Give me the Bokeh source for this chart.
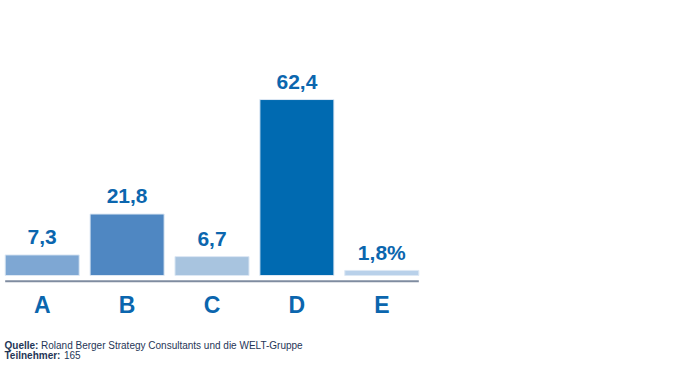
from bokeh.plotting import figure
from bokeh.models import Range1d, ColumnDataSource, Label
from bokeh.core.properties import value
from bokeh.embed import file_html
from bokeh.resources import INLINE

# ---- data ----
categories = ["A", "B", "C", "D", "E"]
values = [7.3, 21.8, 6.7, 62.4, 1.8]
bar_colors = ["#7ea7d3", "#4f87c2", "#a8c4df", "#006ab1", "#b9d1ea"]
value_labels = [f"{v:.1f}".replace(".", ",") for v in values]
value_labels[-1] += "%"
source_label = "Quelle:"
source_text = "Roland Berger Strategy Consultants und die WELT-Gruppe"
part_label = "Teilnehmer:"
part_text = "165"

W, H = 684, 362
px_x = 84.9     # pixels per category step
px_y = 2.82     # pixels per unit value
x0_px = 41.7    # pixel position of first category centre
y0_px = 87.0    # pixel position of zero from bottom

xs = list(range(len(categories)))
bar_w = 0.872

p = figure(width=W, height=H, output_backend="svg", toolbar_location=None,
           x_range=Range1d(-x0_px / px_x, -x0_px / px_x + W / px_x),
           y_range=Range1d(-y0_px / px_y, -y0_px / px_y + H / px_y),
           min_border=0, outline_line_color=None)
p.axis.visible = False
p.grid.visible = False
p.background_fill_color = "white"
p.border_fill_color = "white"

src = ColumnDataSource(dict(x=xs, top=values, color=bar_colors,
                            lab=value_labels, cat=categories,
                            zero=[0] * len(xs)))

p.vbar(x="x", top="top", bottom=0, width=bar_w, fill_color="color",
       line_color="#dde8f4", line_width=1, source=src)

# baseline
p.segment(x0=[xs[0] - bar_w / 2], x1=[xs[-1] + bar_w / 2], y0=[-2.0], y1=[-2.0],
          line_color="#7f8ca0", line_width=2)

TXT = "#0b66ae"
p.text(x="x", y="top", text="lab", source=src, text_align="center",
       text_baseline="alphabetic", y_offset=-18,
       text_font=value("Liberation Sans"), text_font_style="bold",
       text_font_size="21px", text_color=TXT)

p.text(x="x", y="zero", text="cat", source=src, text_align="center",
       text_baseline="alphabetic", y_offset=29,
       text_font=value("Liberation Sans"), text_font_style="bold",
       text_font_size="23px", text_color=TXT)

FOOT = "#1f3657"
FF = "Liberation Sans"
FS = "10px"
for (xx, yy, txt, style) in [(4, 12, source_label, "bold"),
                             (40.5, 12, source_text, "normal"),
                             (4, 2, part_label, "bold"),
                             (63.5, 4, part_text, "normal")]:
    p.add_layout(Label(x=xx, y=yy, x_units="screen", y_units="screen", text=txt,
                       text_font=FF, text_font_style=style, text_font_size=FS,
                       text_baseline="bottom", text_color=FOOT))

open("out.html", "w").write(file_html(p, INLINE))
